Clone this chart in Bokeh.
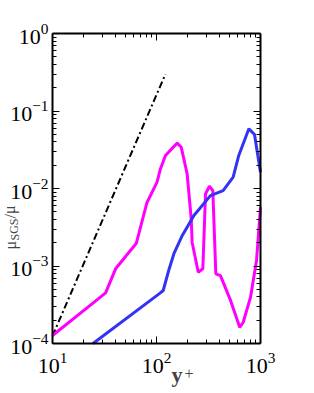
from bokeh.plotting import figure
from bokeh.models import LogAxis, FixedTicker, Label, Range1d
from bokeh.embed import file_html
from bokeh.resources import INLINE

# reference slope line (dash-dot)
ref_x = [10, 122]
ref_y = [1.25e-4, 0.30]

# magenta series
mag_x = [10, 25, 32.4, 40.4, 64, 81, 101, 109, 122, 158, 173, 197, 216, 220, 252,
         279, 296, 323, 348, 372, 412, 515, 631, 682, 802, 916, 1000]
mag_y = [1.27e-4, 3.4e-4, 4.5e-4, 9.2e-4, 1.97e-3, 6.6e-3, 1.2e-2, 1.79e-2, 2.67e-2,
         3.85e-2, 3.4e-2, 1.55e-2, 4.0e-3, 2.03e-3, 8.3e-4, 9.2e-4, 8.55e-3, 1.07e-2,
         9.4e-3, 7.9e-4, 7.5e-4, 3.6e-4, 1.62e-4, 1.88e-4, 3.96e-4, 1.18e-3, 5.74e-3]

# blue series
blue_x = [24.5, 109, 116, 131, 147, 177, 229, 330, 437, 546, 618, 773, 876, 942, 1000]
blue_y = [1.0e-4, 4.5e-4, 4.83e-4, 8.75e-4, 1.44e-3, 2.48e-3, 4.49e-3, 8.1e-3, 9.4e-3,
          1.4e-2, 2.67e-2, 5.89e-2, 4.98e-2, 2.67e-2, 1.62e-2]

# axis extents and ticks (decades)
x_lo, x_hi = 10, 1000
y_lo, y_hi = 1e-4, 1
x_ticks = [10, 100, 1000]
y_ticks = [1e-4, 1e-3, 1e-2, 1e-1, 1]

def minors(ticks):
    return [t * k for t in ticks[:-1] for k in range(2, 10)]

FONT = "Liberation Serif"

# the frame fills the whole canvas so that tick labels and titles are not clipped;
# the visible box is drawn by four axes with fixed locations and bounds
p = figure(width=314, height=393, x_axis_type="log", y_axis_type="log",
           x_range=Range1d(10 ** 0.5, 10 ** 3.5192),
           y_range=Range1d(10 ** -4.645, 10 ** 0.4258),
           output_backend="svg", toolbar_location=None,
           min_border_left=0, min_border_right=0, min_border_top=0,
           min_border_bottom=0)
p.grid.visible = False
p.outline_line_color = None

p.line(ref_x, ref_y, line_color="black", line_width=2, line_dash="7 3 2 3")
p.line(mag_x, mag_y, line_color="#FF00FF", line_width=3)
p.line(blue_x, blue_y, line_color="#3333F5", line_width=3)

right = LogAxis()
top = LogAxis()
p.add_layout(right, "right")
p.add_layout(top, "above")
bottom = p.below[0]
left = p.left[0]

bottom.fixed_location = y_lo
top.fixed_location = y_hi
left.fixed_location = x_lo
right.fixed_location = x_hi

for ax in (bottom, top):
    ax.ticker = FixedTicker(ticks=x_ticks, minor_ticks=minors(x_ticks))
    ax.bounds = (x_lo, x_hi)
for ax in (left, right):
    ax.ticker = FixedTicker(ticks=y_ticks, minor_ticks=minors(y_ticks))
    ax.bounds = (y_lo, y_hi)

for ax in (bottom, top, left, right):
    ax.axis_line_color = "black"
    ax.axis_line_width = 2
    ax.major_tick_in = 7
    ax.major_tick_out = 0
    ax.minor_tick_in = 4
    ax.minor_tick_out = 0
    ax.major_tick_line_color = "black"
    ax.minor_tick_line_color = "black"
    ax.major_label_text_font = FONT
    ax.major_label_text_font_size = "22px"
    ax.major_label_text_color = "black"
    ax.major_label_standoff = 4

bottom.major_label_standoff = 9

for ax in (right, top):
    ax.major_label_text_color = None
    ax.major_label_text_font_size = "10px"
    ax.major_label_standoff = 0

def lab(**kw):
    p.add_layout(Label(x_units="screen", y_units="screen", text_font=FONT, **kw))

# y axis title: mu_SGS / mu (rotated, reading upwards)
lab(x=18, y=144, text="μ", angle=1.5708, text_font_size="16px")
lab(x=21, y=153, text="SGS", angle=1.5708, text_font_size="12px")
lab(x=18, y=175, text="/μ", angle=1.5708, text_font_size="16px")

# x axis title: y+
lab(x=171, y=7, text="y", text_font_size="22px", text_font_style="bold")
lab(x=184, y=15, text="+", text_font_size="16px")

open("out.html", "w").write(file_html(p, INLINE))
